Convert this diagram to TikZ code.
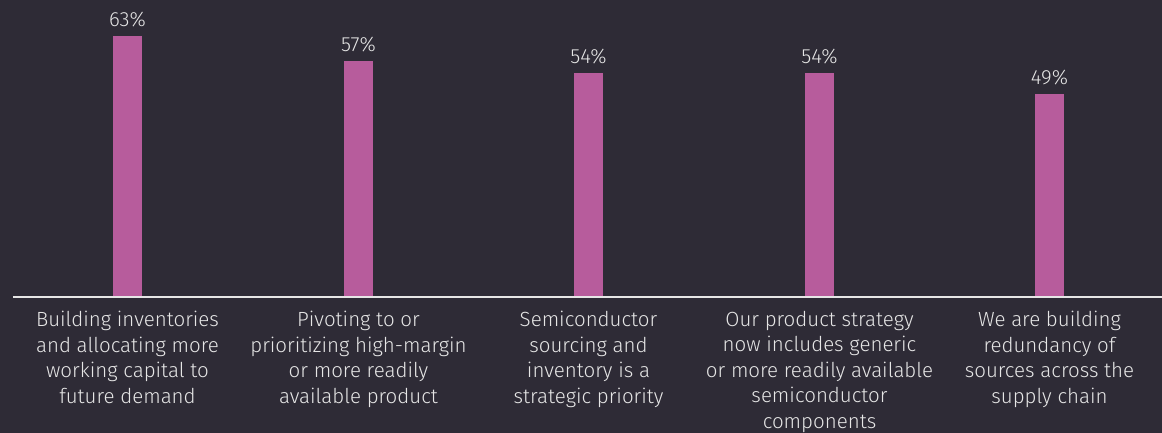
\documentclass[tikz,border=0pt]{standalone}
\usepackage{fontspec}
\setmainfont{Fira Sans Light}
\definecolor{bg}{HTML}{2E2B36}
\definecolor{barc}{HTML}{B75C9C}
\definecolor{txt}{HTML}{E6E6E6}
\begin{document}
\begin{tikzpicture}[x=1pt,y=-1pt,
  bar/.style={fill=barc,draw=none},
  pct/.style={text=txt,font=\fontsize{20.5}{24}\selectfont,anchor=base,inner sep=0pt},
  lab/.style={text=txt,font=\fontsize{20.5}{25.5}\selectfont,align=center,anchor=north,inner sep=0pt}]
\fill[bg] (0,0) rectangle (1162,433);
\useasboundingbox (0,0) rectangle (1162,433);
\coordinate (axL) at (13,297);
\coordinate (axR) at (1162,297);
\foreach \i/\cx/\top/\p in {1/127.5/36/63,2/358.5/61/57,3/588.5/73/54,4/819.5/73/54,5/1049.5/94/49}{
  \fill[bar] (\cx-14.5,\top) rectangle (\cx+14.5,296.5);
  \node[pct] (p\i) at (\cx,\top-9.5) {\p\%};
}
\draw[txt,line width=1.5pt] (axL) -- (axR);
\node[lab] (l1) at (127.5,311) {Building inventories\\and allocating more\\working capital to\\future demand};
\node[lab] (l2) at (358.5,311) {Pivoting to or\\prioritizing high-margin\\or more readily\\available product};
\node[lab] (l3) at (588.5,311) {Semiconductor\\sourcing and\\inventory is a\\strategic priority};
\node[lab] (l4) at (819.5,311) {Our product strategy\\now includes generic\\or more readily available\\semiconductor\\components};
\node[lab] (l5) at (1049.5,311) {We are building\\redundancy of\\sources across the\\supply chain};
\end{tikzpicture}
\end{document}
